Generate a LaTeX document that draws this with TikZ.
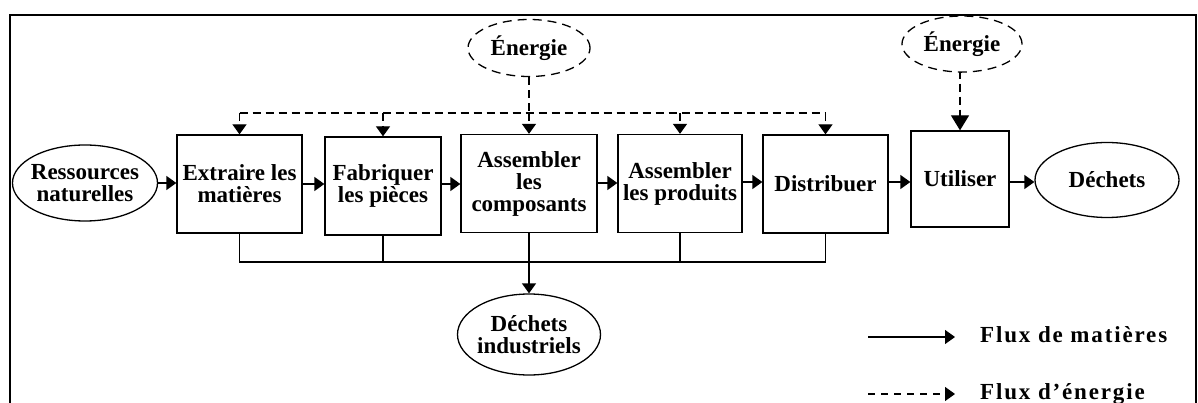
\documentclass[tikz,border=0pt]{standalone}
\usepackage{fontspec}
\setmainfont{Liberation Serif}
\newfontfamily\legendfont[LetterSpace=8]{Liberation Serif}
\usetikzlibrary{arrows.meta,shapes.geometric}

\begin{document}
\begin{tikzpicture}[x=1pt,y=-1pt,
  every node/.style={font=\fontsize{23}{22}\selectfont\bfseries,align=center,inner sep=0pt},
  stagebox/.style={draw,line width=1.3pt,minimum height=98},
  pool/.style={draw,ellipse,line width=1.3pt},
  source/.style={draw,ellipse,line width=1.3pt,dash pattern=on 9pt off 6pt},
  tip/.style={-{Triangle[length=10pt,width=14pt]}},
  flow/.style={line width=1.3pt,tip},
  flowline/.style={line width=1.3pt},
  energy/.style={line width=1.3pt,dash pattern=on 8pt off 5pt,tip},
  energyline/.style={line width=1.3pt,dash pattern=on 8pt off 5pt}]

\useasboundingbox (0,0) rectangle (1198,403);

% open frame
\draw[line width=1.8pt] (10,403) -- (10,15) -- (1196,15) -- (1196,403);

% main chain
\node[pool,minimum width=145,minimum height=76,
      label={center:Ressources\\naturelles}] (res) at (85,183) {};
\node[stagebox,minimum width=125] (extr) at (239.5,184) {Extraire les\\mati\`eres};
\node[stagebox,minimum width=116] (fab) at (383,186) {Fabriquer\\les pi\`eces};
\node[stagebox,minimum width=136] (asm) at (529,183.5) {Assembler\\les\\composants};
\node[stagebox,minimum width=124] (prod) at (680,183.5) {Assembler\\les produits};
\node[stagebox,minimum width=125] (dist) at (825.5,184) {Distribuer};
\node[stagebox,minimum width=98,minimum height=96] (util) at (960,179) {Utiliser};
\node[pool,minimum width=144,minimum height=75,
      label={center:D\'echets}] (dech) at (1107,180) {};

% energy sources
\node[source,minimum width=122,minimum height=57,
      label={center:\'Energie}] (en1) at (529,48) {};
\node[source,minimum width=120,minimum height=56,
      label={center:\'Energie}] (en2) at (962,44) {};

% industrial waste
\node[pool,minimum width=143,minimum height=81,
      label={center:D\'echets\\industriels}] (dind) at (529,334.5) {};

% material flows
\draw[flow] (res.east) -- (res.east -| extr.west);
\draw[flow] (extr.east |- 0,184) -- (fab.west |- 0,184);
\draw[flow] (fab.east |- 0,184) -- (asm.west |- 0,184);
\draw[flow] (asm.east |- 0,183) -- (prod.west |- 0,183);
\draw[flow] (prod.east |- 0,182) -- (dist.west |- 0,182);
\draw[flow] (dist.east |- 0,182) -- (util.west |- 0,182);
\draw[flow] (util.east |- 0,182) -- (dech.west |- 0,182);

% energy distribution
\coordinate (bus) at (0,113);
\draw[energyline] (en1.south) -- (en1.south |- bus);
\draw[energyline] (extr.north |- bus) -- (dist.north |- bus);
\foreach \s in {extr,fab,asm,prod,dist}
  \draw[energy] (\s.north |- bus) -- (\s.north);
\draw[line width=1.3pt,dash pattern=on 8pt off 5pt,
      -{Triangle[length=15pt,width=18pt]}] (en2.south) -- (util.north |- en2.south) -- (util.north);

% waste collection
\coordinate (wbus) at (0,262);
\draw[flowline] (extr.south) -- (extr.south |- wbus) -- (dist.south |- wbus) -- (dist.south);
\draw[flowline] (fab.south) -- (fab.south |- wbus);
\draw[flowline] (prod.south) -- (prod.south |- wbus);
\draw[flow] (asm.south) -- (dind.north);

% legend
\coordinate (ma) at (868,337);
\coordinate (mb) at (955,337);
\coordinate (ea) at (868,394);
\coordinate (eb) at (955,394);
\draw[flow] (ma) -- (mb);
\draw[line width=1.3pt,dash pattern=on 7pt off 6pt,tip] (ea) -- (eb);
\node[anchor=base west,font=\fontsize{23}{22}\selectfont\legendfont\bfseries] (lm) at (980,342) {Flux de mati\`eres};
\node[anchor=base west,font=\fontsize{23}{22}\selectfont\legendfont\bfseries] (le) at (980,399) {Flux d’\'energie};
\end{tikzpicture}
\end{document}
